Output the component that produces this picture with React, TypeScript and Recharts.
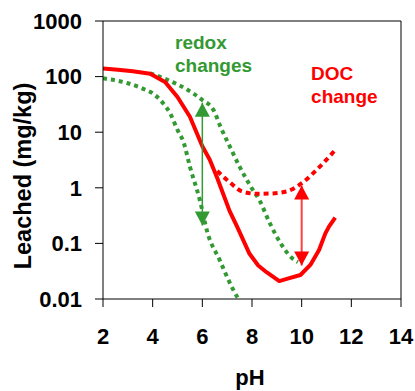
import React from 'react';
import { LineChart, Line, XAxis, YAxis, ReferenceLine, ReferenceDot, Label } from 'recharts';

const GREEN = '#339933';
const RED = '#ff0000';
const FONT = '"Liberation Sans", Arial, sans-serif';

const xTicks = [2, 4, 6, 8, 10, 12, 14];
const yTicks = [0.01, 0.1, 1, 10, 100, 1000];
const yTickLabels = ['0.01', '0.1', '1', '10', '100', '1000'];

const redSolidPh = [2.0, 2.6, 3.2, 3.9, 4.5, 5.0, 5.5, 6.0, 6.3, 6.6, 7.1, 7.4, 7.9, 8.25, 8.6, 9.1, 9.4, 9.95, 10.35, 10.7, 10.95, 11.1, 11.35];
const redSolidVal = [140, 133, 125, 113, 80, 43, 19, 5.6, 3.2, 1.5, 0.38, 0.2, 0.065, 0.04, 0.03, 0.021, 0.023, 0.027, 0.041, 0.076, 0.15, 0.2, 0.29];

const redDotPh = [6.6, 7.1, 7.6, 8.2, 8.8, 9.4, 10.05, 10.6, 11.0, 11.35];
const redDotVal = [2.0, 1.26, 0.86, 0.78, 0.79, 0.86, 1.25, 2.1, 3.2, 4.8];

const greenUpperPh = [3.9, 4.6, 5.4, 6.0, 6.45, 6.75, 7.1, 7.5, 7.95, 8.3, 8.7, 9.2, 9.6, 9.85];
const greenUpperVal = [115, 87, 58, 38, 25, 12, 5.6, 2.4, 1.05, 0.6, 0.24, 0.093, 0.055, 0.046];

const greenLowerPh = [2.0, 3.0, 3.6, 4.0, 4.4, 4.7, 5.0, 5.25, 5.5, 5.9, 6.2, 6.7, 7.2, 7.45];
const greenLowerVal = [93, 76, 61, 50, 34, 22, 11, 6.5, 2.4, 0.6, 0.16, 0.05, 0.016, 0.01];

const greenArrowPh = [6, 6];
const greenArrowVal = [0.21, 34];
const redArrowPh = [10, 10];
const redArrowVal = [0.04, 1.1];

const redoxNote = { ph: 4.9, v: 316, lines: ['redox', 'changes'] };
const docNote = { ph: 10.38, v: 87, lines: ['DOC', 'change'] };

const zip = (xs: number[], ys: number[]) => xs.map((ph, i) => ({ ph, v: ys[i] }));

const arrowHead = (color: string) => (props: any) => {
  const { cx, cy, index } = props;
  if (cx == null || cy == null) return <g key={`h${index}`} />;
  const w = 7.5;
  const h = 14;
  const d = index === 0
    ? `M${cx},${cy} L${cx - w},${cy - h} L${cx + w},${cy - h} Z`
    : `M${cx},${cy} L${cx - w},${cy + h} L${cx + w},${cy + h} Z`;
  return <path key={`h${index}`} d={d} fill={color} stroke="none" />;
};

const note = (lines: string[], color: string) => (props: any) => (
  <text x={props.cx} y={props.cy} fill={color} fontFamily={FONT} fontWeight="bold" fontSize={19} textAnchor="start">
    {lines.map((l, i) => (
      <tspan key={i} x={props.cx} dy={i === 0 ? 0 : 23}>{l}</tspan>
    ))}
  </text>
);

const YLabel = (props: any) => {
  const vb = props.viewBox || { x: 0, y: 21, width: 103, height: 278 };
  const cx = vb.x + 23;
  const cy = vb.y + vb.height / 2 + 16;
  return (
    <text x={cx} y={cy} transform={`rotate(-90 ${cx} ${cy})`} textAnchor="middle" dominantBaseline="central"
      fontFamily={FONT} fontWeight="bold" fontSize={23.5} fill="#000">Leached (mg/kg)</text>
  );
};

const XLabel = (props: any) => {
  const vb = props.viewBox || { x: 103, y: 299, width: 298, height: 92 };
  const cx = vb.x + vb.width / 2 - 2;
  const cy = vb.y + 86;
  return (
    <text x={cx} y={cy} textAnchor="middle" fontFamily={FONT} fontWeight="bold" fontSize={22} fill="#000">pH</text>
  );
};

export default function App() {
  return (
    <div style={{ position: 'absolute', left: 0, top: 0, width: 415, height: 391, background: '#fff' }}>
      <LineChart width={415} height={391} margin={{ top: 21, right: 14, left: 0, bottom: 0 }}>
        <XAxis
          type="number"
          dataKey="ph"
          domain={[2, 14]}
          ticks={xTicks}
          allowDataOverflow
          height={92}
          tickSize={8}
          tickMargin={21}
          axisLine={{ stroke: '#000', strokeWidth: 1 }}
          tickLine={{ stroke: '#000', strokeWidth: 1 }}
          tick={{ fontSize: 22, fontWeight: 'bold', fill: '#000', fontFamily: FONT }}
        >
          <Label content={<XLabel />} />
        </XAxis>
        <YAxis
          type="number"
          dataKey="v"
          scale="log"
          domain={[0.01, 1000]}
          ticks={yTicks}
          allowDataOverflow
          width={103}
          tickSize={8}
          tickMargin={13}
          tickFormatter={(t: number) => yTickLabels[yTicks.indexOf(t)] ?? String(t)}
          axisLine={{ stroke: '#000', strokeWidth: 1 }}
          tickLine={{ stroke: '#000', strokeWidth: 1 }}
          tick={{ fontSize: 22, fontWeight: 'bold', fill: '#000', fontFamily: FONT }}
        >
          <Label content={<YLabel />} />
        </YAxis>
        <ReferenceLine y={1000} stroke="#000" strokeWidth={1} />
        <ReferenceLine x={14} stroke="#000" strokeWidth={1} />

        <Line data={zip(greenLowerPh, greenLowerVal)} dataKey="v" type="monotone" stroke={GREEN} strokeWidth={4}
          strokeDasharray="4 4" dot={false} isAnimationActive={false} />
        <Line data={zip(greenUpperPh, greenUpperVal)} dataKey="v" type="monotone" stroke={GREEN} strokeWidth={4}
          strokeDasharray="4 4" dot={false} isAnimationActive={false} />
        <Line data={zip(redDotPh, redDotVal)} dataKey="v" type="monotone" stroke={RED} strokeWidth={4}
          strokeDasharray="5 4" dot={false} isAnimationActive={false} />
        <Line data={zip(redSolidPh, redSolidVal)} dataKey="v" type="linear" stroke={RED} strokeWidth={4}
          strokeLinejoin="round" dot={false} isAnimationActive={false} />

        <Line data={zip(greenArrowPh, greenArrowVal)} dataKey="v" type="linear" stroke={GREEN} strokeWidth={1.5}
          dot={arrowHead(GREEN)} activeDot={false} isAnimationActive={false} />
        <Line data={zip(redArrowPh, redArrowVal)} dataKey="v" type="linear" stroke="#ff4040" strokeWidth={2}
          dot={arrowHead(RED)} activeDot={false} isAnimationActive={false} />

        <ReferenceDot x={redoxNote.ph} y={redoxNote.v} r={0} shape={note(redoxNote.lines, GREEN)} />
        <ReferenceDot x={docNote.ph} y={docNote.v} r={0} shape={note(docNote.lines, RED)} />
      </LineChart>
    </div>
  );
}
